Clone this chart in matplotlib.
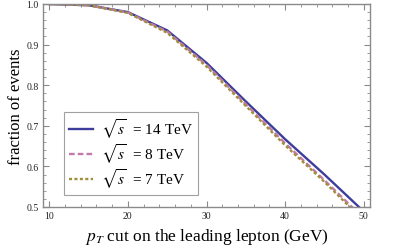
import matplotlib.pyplot as plt
from matplotlib.ticker import MultipleLocator

plt.rcParams["font.family"] = ["Liberation Serif", "DejaVu Serif"]
plt.rcParams["mathtext.fontset"] = "stix"

# pT cut values (GeV) and fraction of events surviving
pt_cut = [10, 15, 20, 25, 30, 35, 40, 45, 50]
frac_14 = [1.0, 0.997, 0.980, 0.935, 0.855, 0.760, 0.667, 0.580, 0.489]
frac_8 = [1.0, 0.997, 0.979, 0.932, 0.850, 0.753, 0.657, 0.566, 0.472]
frac_7 = [1.0, 0.997, 0.978, 0.929, 0.846, 0.749, 0.652, 0.562, 0.466]

labels = [r"$\sqrt{s}$  = 14 TeV", r"$\sqrt{s}$  = 8 TeV", r"$\sqrt{s}$  = 7 TeV"]
colors = ["#3d3d9c", "#c47aa8", "#a08f3a"]

fig = plt.figure(figsize=(4.07, 2.53), dpi=100)
ax = fig.add_axes([43 / 407, 1 - 208 / 253, 327 / 407, 203 / 253])

ax.plot(pt_cut, frac_14, color=colors[0], lw=1.7, ls="-", label=labels[0])
ax.plot(pt_cut, frac_8, color=colors[1], lw=1.7, ls=(0, (2.4, 1.3)), label=labels[1])
ax.plot(pt_cut, frac_7, color=colors[2], lw=1.7, ls=(0, (1.3, 1.0)), label=labels[2])

ax.set_xlim(9.2, 50.8)
ax.set_ylim(0.5, 1.0)
ax.xaxis.set_major_locator(MultipleLocator(10))
ax.xaxis.set_minor_locator(MultipleLocator(2))
ax.yaxis.set_major_locator(MultipleLocator(0.1))
ax.yaxis.set_minor_locator(MultipleLocator(0.02))
ax.yaxis.set_major_formatter(plt.FuncFormatter(lambda v, p: f"{v:.1f}"))

for sp in ax.spines.values():
    sp.set_color("#8a8a8a")
    sp.set_linewidth(1.0)
ax.tick_params(which="both", direction="in", top=True, right=True,
               color="#8a8a8a", labelsize=7, labelcolor="#222222", pad=3)
ax.tick_params(which="major", length=4, width=0.8)
ax.tick_params(which="minor", length=2, width=0.6)

ax.set_xlabel(r"$p_T$ cut on the leading lepton (GeV)", fontsize=12.5, labelpad=4)
ax.set_ylabel("fraction of events", fontsize=12, labelpad=2)

leg = ax.legend(loc="lower left", bbox_to_anchor=(0.064, 0.06), fontsize=11,
                frameon=True, fancybox=False, handlelength=1.6,
                handletextpad=0.5, borderpad=0.32, labelspacing=0.08,
                borderaxespad=0)
leg.get_frame().set_edgecolor("#8a8a8a")
leg.get_frame().set_linewidth(0.8)

fig.savefig("out.png", dpi=100)
